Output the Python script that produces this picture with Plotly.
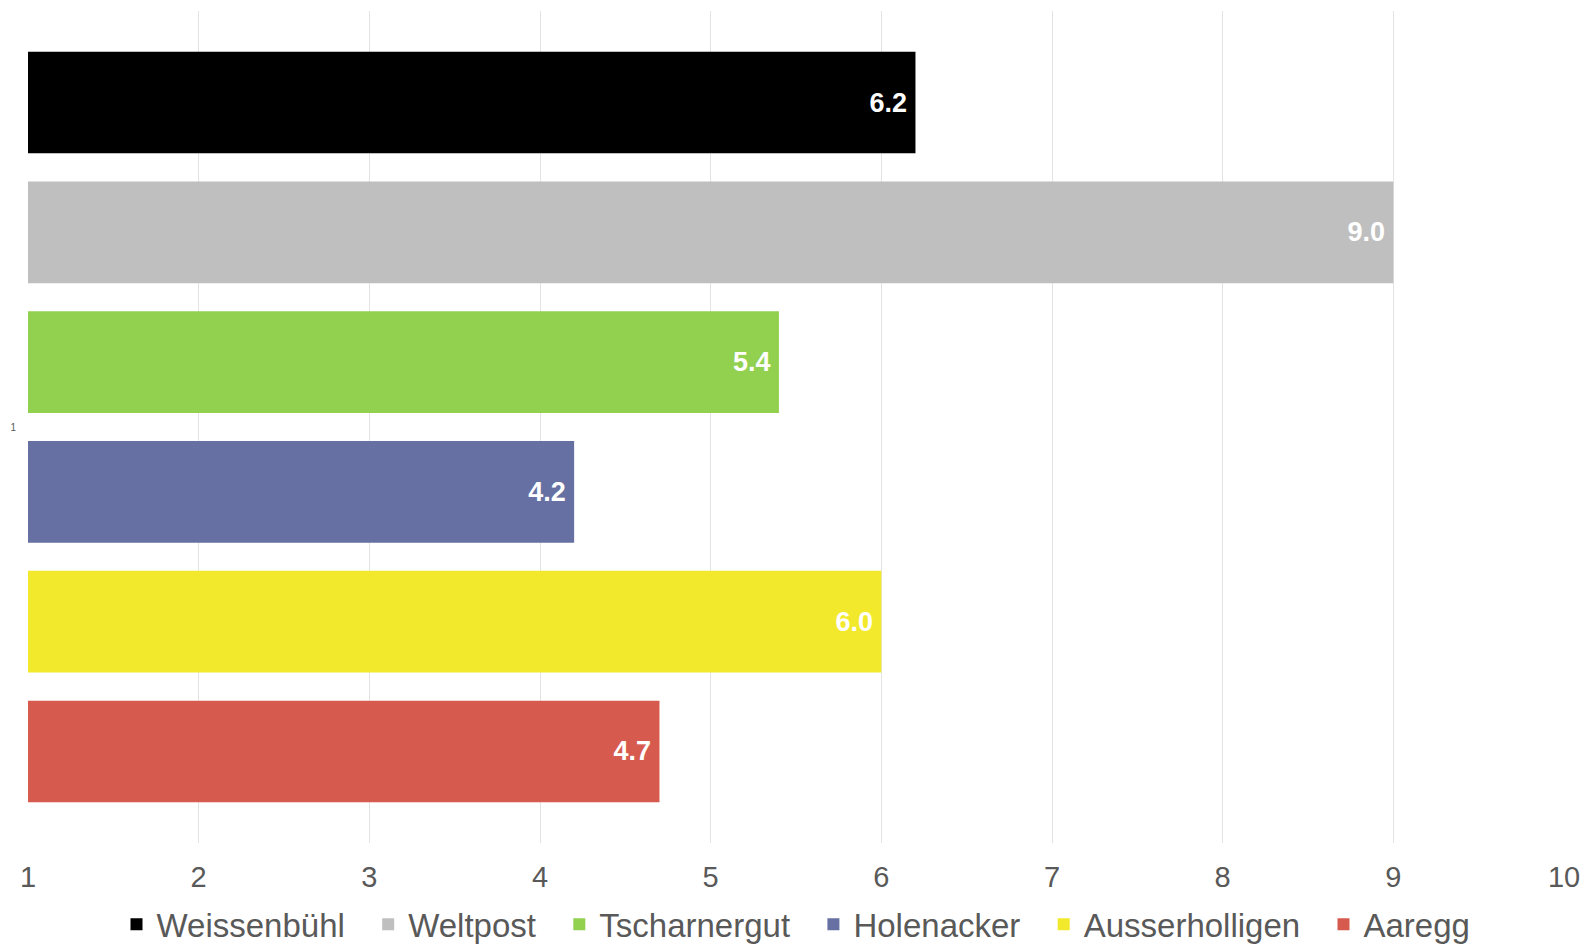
import plotly.graph_objects as go

# Single category with one bar per district
category = ["1"]
districts = ["Weissenbühl", "Weltpost", "Tscharnergut", "Holenacker", "Ausserholligen", "Aaregg"]
values = [6.2, 9.0, 5.4, 4.2, 6.0, 4.7]
colors = ["#000000", "#bfbfbf", "#92d050", "#6670a3", "#f2e92c", "#d75a4e"]
x_ticks = [1, 2, 3, 4, 5, 6, 7, 8, 9, 10]

# wider gaps between legend entries
pad = "\u00a0\u00a0"

fig = go.Figure()
for i, (name, val, col) in enumerate(zip(districts, values, colors)):
    fig.add_trace(go.Bar(
        name=name + (pad if i < len(districts) - 1 else ""),
        y=category,
        x=[val],
        orientation="h",
        marker=dict(color=col, line=dict(width=0)),
        texttemplate="%{x:.1f}\u2009",
        textposition="inside",
        insidetextanchor="end",
        textangle=0,
        textfont=dict(family="Liberation Sans, Arial", size=27, color="white", weight="bold"),
        cliponaxis=True,
    ))

fig.update_layout(
    width=1588,
    height=945,
    paper_bgcolor="white",
    plot_bgcolor="white",
    barmode="group",
    bargap=0.064,
    bargroupgap=0.217,
    margin=dict(l=28, r=24, t=11, b=102, autoexpand=False),
    font=dict(family="Liberation Sans, Arial", color="#595959"),
    showlegend=True,
    legend=dict(
        orientation="h",
        x=0.5, xanchor="center",
        y=-0.064, yanchor="top",
        font=dict(size=33, color="#595959"),
        itemwidth=30,
        tracegroupgap=0,
    ),
)

fig.update_xaxes(
    range=[1, 10],
    tickvals=x_ticks,
    ticktext=[str(t) for t in x_ticks],
    showgrid=True,
    gridcolor="#e3e3e3",
    gridwidth=1.3,
    zeroline=False,
    showline=False,
    ticks="",
    ticklabelstandoff=14,
    tickfont=dict(size=29, color="#595959"),
)

fig.update_yaxes(
    type="category",
    autorange="reversed",
    showgrid=False,
    zeroline=False,
    showline=False,
    ticks="",
    ticklabelstandoff=11,
    tickfont=dict(size=10, color="#595959"),
)

fig.write_html("out.html")
